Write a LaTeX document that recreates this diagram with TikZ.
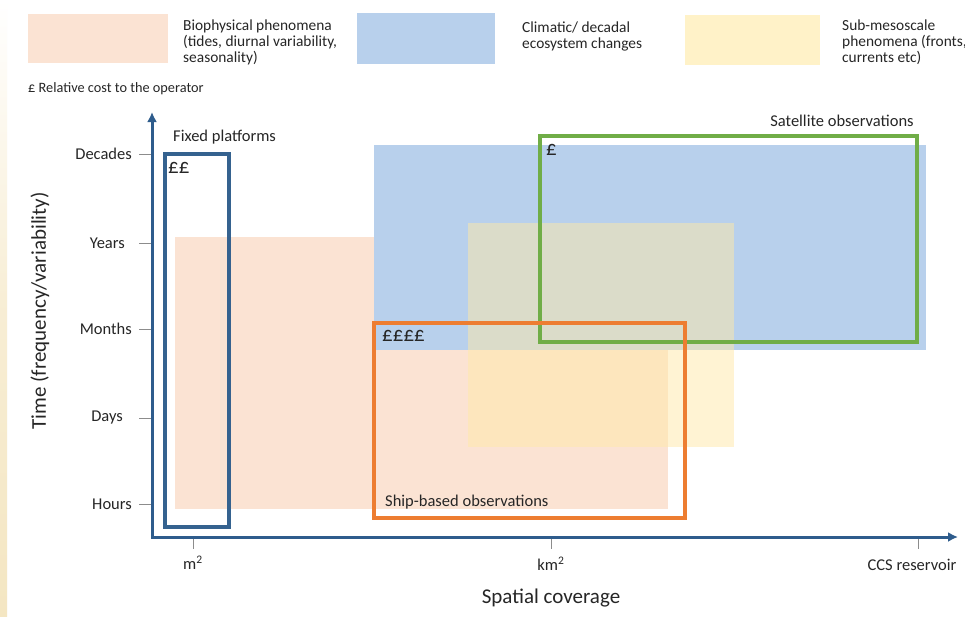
\documentclass[tikz,border=0pt]{standalone}
\usepackage{fontspec}
\setmainfont{Carlito}
\usetikzlibrary{arrows.meta}
\definecolor{axisblue}{HTML}{2E5C8C}
\definecolor{fixblue}{HTML}{35628F}
\definecolor{tickgray}{HTML}{8C8C8C}
\definecolor{peach}{HTML}{FBE3D3}
\definecolor{skyblue}{HTML}{B8D0EC}
\definecolor{paleyellow}{HTML}{FFF2C8}
\definecolor{regionyellow}{HTML}{FFE9A8}
\definecolor{satgreen}{HTML}{70AD47}
\definecolor{shiporange}{HTML}{ED7D31}
\definecolor{stripcream}{HTML}{F4E6C2}
\definecolor{txt}{HTML}{262626}
\begin{document}
\begin{tikzpicture}[x=1pt,y=-1pt,
  lbl/.style={inner sep=0pt, text=txt, font=\fontsize{16.5}{19}\selectfont},
  legtext/.style={inner sep=0pt, text=txt, align=left, anchor=north west, font=\fontsize{15.4}{15.8}\selectfont},
  keytext/.style={inner sep=0pt, text=txt, font=\fontsize{14.3}{16}\selectfont},
  costmark/.style={inner sep=0pt, text=txt, anchor=north west, font=\fontsize{21}{24}\selectfont},
  bigtitle/.style={inner sep=0pt, text=txt, font=\fontsize{21}{24}\selectfont},
  tickline/.style={draw=tickgray, line width=1pt},
  axisline/.style={draw=axisblue, line width=3pt, line join=miter},
  obsbox/.style={line width=3.5pt},
]
\useasboundingbox (0,0) rectangle (965,616);
\fill[white] (0,0) rectangle (965,616);
\shade[top color=white, bottom color=stripcream, middle color=stripcream!70!white] (0,0) rectangle (7,616);

% legend
\fill[peach] (28,14) rectangle (168,63);
\node[legtext] (legA) at (183,20) {Biophysical phenomena\\(tides, diurnal variability,\\seasonality)};
\fill[skyblue] (357,13) rectangle (495,64);
\node[legtext] (legB) at (522,22) {Climatic/ decadal\\ecosystem changes};
\fill[paleyellow] (685,15) rectangle (820,65);
\node[legtext] (legC) at (842,20) {Sub-mesoscale\\phenomena (fronts,\\currents etc)};
\node[keytext, anchor=west] (costkey) at (28,89) {£ Relative cost to the operator};

% phenomena regions
\fill[peach] (175,237) rectangle (668,509);
\fill[skyblue] (374,145) rectangle (926,350);
\fill[regionyellow, opacity=0.5] (468,223) rectangle (734,447);

% observation boxes
\draw[obsbox, fixblue] (165,154) rectangle (229,527);
\draw[obsbox, satgreen, line width=4pt] (540,136) rectangle (917,342);
\draw[obsbox, shiporange] (374,323) rectangle (685,518);

\node[lbl, anchor=west] (fixlbl) at (173,137) {Fixed platforms};
\node[costmark] (fixcost) at (168,162) {££};
\node[costmark] (satcost) at (546,144) {£};
\node[lbl] (satlbl) at (842,121) {Satellite observations};
\node[costmark] (shipcost) at (382,330) {££££};
\node[lbl, anchor=west] (shiplbl) at (385,502) {Ship-based observations};

% axes
\coordinate (O) at (152,537);
\coordinate (ytop) at (152,112);
\coordinate (xend) at (958,537);
\draw[axisline, {Latex[length=10pt,width=10pt]}-{Latex[length=10pt,width=10pt]}] (ytop) -- (O) -- (xend);

% y ticks
\foreach \yy/\nm/\txt/\xr in {154/dec/Decades/132, 243/yrs/Years/125, 329/mon/Months/132, 418/day/Days/123, 504/hrs/Hours/132}{
  \draw[tickline] (139,\yy) -- (151,\yy);
  \node[lbl, anchor=east] (\nm) at (\xr,\yy) {\txt};
}
% x ticks
\foreach \xx in {193, 551, 918}{
  \draw[tickline] (\xx,539) -- (\xx,549);
}
\node[lbl] (msq) at (193,563) {m\textsuperscript{2}};
\node[lbl] (kmsq) at (551,564) {km\textsuperscript{2}};
\node[lbl] (ccs) at (912,565) {CCS reservoir};

\node[bigtitle] (xtitle) at (551,598) {Spatial coverage};
\node[bigtitle, rotate=90] (ytitle) at (40,311) {Time (frequency/variability)};
\end{tikzpicture}
\end{document}
